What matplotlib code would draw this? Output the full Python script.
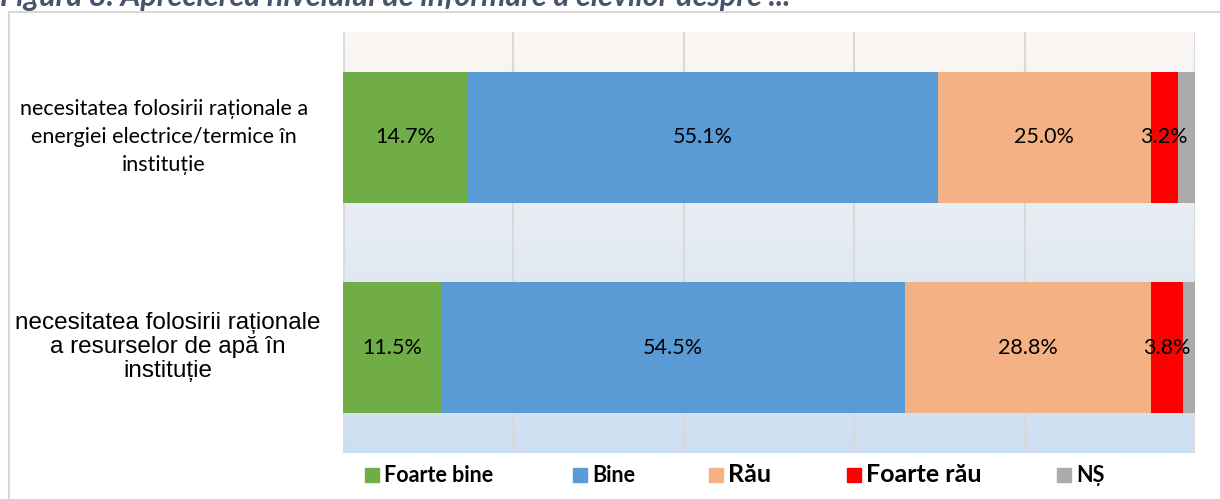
import numpy as np
import matplotlib.pyplot as plt
from matplotlib.patches import Rectangle
from matplotlib.lines import Line2D

categories = ["necesitatea folosirii raționale a\nenergiei electrice/termice în\ninstituție",
              "necesitatea folosirii raționale\na resurselor de apă în\ninstituție"]
series = ["Foarte bine", "Bine", "Rău", "Foarte rău", "NȘ"]
values = [
    [14.7, 11.5],   # Foarte bine
    [55.1, 54.5],   # Bine
    [25.0, 28.8],   # Rău
    [3.2, 3.8],     # Foarte rău
    [2.0, 1.4],     # NȘ
]
colors = ["#70AD47", "#5B9BD5", "#F4B183", "#FF0000", "#ADAAAA"]
show_label = [True, True, True, True, False]

fig = plt.figure(figsize=(12.2, 4.99), dpi=100)
W, H = 1220, 499
ax = fig.add_axes([343 / W, 1 - 453 / H, (1195 - 343) / W, (453 - 32) / H])

# gradient background
t = np.linspace(0, 1, 256)[:, None, None]
top = np.array([252, 247, 244]) / 255
bot = np.array([204, 223, 240]) / 255
img = top + (bot - top) * t * np.ones((1, 1, 3))
ax.imshow(img, extent=[0, 100, 1.5, -0.5], aspect="auto", zorder=0)

y = np.arange(len(categories))
left = np.zeros(len(categories))
for i, s in enumerate(series):
    v = np.array(values[i])
    ax.barh(y, v, left=left, height=0.62, color=colors[i], zorder=3)
    if show_label[i]:
        for j in range(len(y)):
            ax.text(left[j] + v[j] / 2, y[j], f"{v[j]:.1f}%", ha="center", va="center",
                    fontsize=15.5, family="Lato", color="#000000", zorder=4)
    left += v

ax.set_xlim(0, 100)
ax.set_ylim(1.5, -0.5)
ax.set_xticks([0, 20, 40, 60, 80, 100])
ax.grid(axis="x", color="#D9D9D9", linewidth=1.5, zorder=1)
ax.tick_params(length=0, labelbottom=False)
ax.set_yticks(y)
ax.set_yticklabels([])
for sp in ax.spines.values():
    sp.set_visible(False)
ax.axvline(0, color="#D9D9D9", linewidth=2, zorder=2)
ax.axvline(100, color="#D9D9D9", linewidth=1.5, zorder=2)

# category labels
fig.text(164 / W, 1 - 137 / H, categories[0], ha="center", va="center", fontsize=15.5,
         family="Lato", linespacing=1.5, multialignment="center")
fig.text(168 / W, 1 - 347 / H, categories[1], ha="center", va="center", fontsize=17.5,
         family="Liberation Sans", linespacing=1.12, multialignment="center")

# outer frame (left and top)
fig.add_artist(Line2D([9 / W, 9 / W], [0, 1 - 12 / H], color="#D9D9D9", lw=1.5))
fig.add_artist(Line2D([9 / W, 1], [1 - 12 / H, 1 - 12 / H], color="#D9D9D9", lw=1.5))

# title (cut at top)
fig.text(0, 1 - 6 / H, "Figura 8. Aprecierea nivelului de informare a elevilor despre ...",
         ha="left", va="baseline", fontsize=22, fontweight="bold", fontstyle="italic",
         color="#44546A", family="Lato")

# legend
leg_x = [365, 573, 709, 847, 1057]
leg_size = [15.5, 15.5, 18, 18, 15.5]
for i, s in enumerate(series):
    fig.add_artist(Rectangle((leg_x[i] / W, 1 - 482 / H), 14 / W, 14 / H,
                             color=colors[i], transform=fig.transFigure))
    fig.text((leg_x[i] + 19) / W, 1 - 482 / H, s, ha="left", va="baseline",
             fontsize=leg_size[i], fontweight="bold", family="Lato")

fig.savefig("out.png", dpi=100)
